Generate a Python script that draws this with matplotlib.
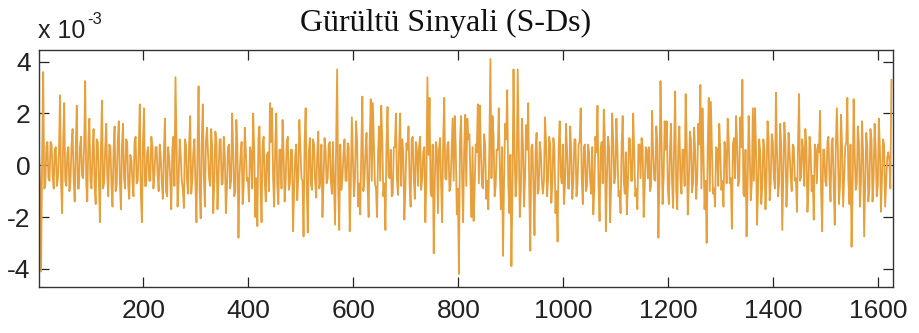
import numpy as np
import matplotlib
matplotlib.use('Agg')
import matplotlib.pyplot as plt

plt.rcParams['axes.unicode_minus'] = False

# noise signal, units of 1e-3
# peaks / spikes, every 4th sample
noise_e3 = [
    0.5, -4.1, 3.6, -0.8, 0.9, -0.6, 0.8, -0.9, 0.7, -0.5,
    2.7, -1.85, 2.4, -0.8, 0.7, -0.6, 1.4, -1.4, 2.3, -0.9,
    1.1, -0.5, 3.25, -1.4, 1.8, -0.9, 1.4, -1.5, 0.9, -2.2,
    2.5, -0.7, 1.6, -1.2, 0.7, -1.6, 1.5, -0.8, 1.7, -1.7,
    1.6, -0.9, 0.9, -1.3, 0.2, -1.2, 1.1, -0.6, 2.35, -2.2,
    2.2, -0.8, 0.7, -0.6, 0.7, -0.3, 0.7, -1.0, 0.3, -1.3,
    1.8, -1.2, 0.3, -1.7, 1.1, 3.4, -1.6, 1.0, -0.6,
    # 272 ..
    -1.65, 0.8, -1.1, 1.9, -0.6, 1.0, -2.2, 3.05, -2.05, 2.35,
    -1.6, 1.45, -0.5, 1.4, -1.85, 1.3, -1.7, 1.0, -0.75, 1.1,
    -1.85, 0.7, -0.9, 2.0, -1.2, 1.75, -2.8, 0.4, -1.5, 1.45,
    -0.6, -1.4, 0.5, 2.0, -2.0, -2.35, 1.5, -2.2, 1.1, -1.4,
    0.5, 2.4, 2.2, -1.6, 2.0, -1.5, 0.6, 1.75, -1.4, 0.9,
    -0.95, 0.6, -2.55, 0.35, -1.35, 1.75, -0.5, -2.75, 2.2, -2.6,
    1.05, -0.95, 0.8, -1.25, 1.3, -0.6, -2.0, 1.05,
    # 544 ..
    -0.7, 0.8, -0.6, 0.9, -2.3, 3.7, -2.5, -0.95, 0.4, -0.6,
    0.85, -2.55, 1.85, -1.2, 1.7, -1.6, -1.9, 2.65, -0.5, 1.25,
    -2.0, 2.55, 2.4, -0.7, -2.0, 1.5, 2.3, -1.2, -2.5, 2.25,
    -0.5, -1.2, 0.7, 2.0, -1.15, 2.0, 1.0, -2.1, 0.85, 1.5,
    -1.6, 1.1, -1.3, 0.6, 0.7, -0.95, 0.5, -2.2, 3.4, 2.6,
    -1.2, -3.4, 0.9, -1.85, 1.05, -2.2, 2.6, -0.55, 0.9, -0.8,
    1.8, 1.9, -1.9, -4.2, 1.9, -2.2, 1.95, 1.8,
    # 816 ..
    1.2, -2.0, -2.15, 0.8, 2.35, 2.3, -0.8, 1.2, -1.3, -1.7,
    4.1, 1.9, -1.2, 0.6, 2.2, -1.7, -3.5, 1.6, 2.9, -1.85,
    -3.9, 3.7, -1.2, 3.7, -2.0, 1.8, -1.6, 1.55, 2.4, -3.3,
    0.8, -2.7, 1.25, -0.95, 0.5, -1.1, 1.85, -1.2, 1.1, -1.45,
    1.05, -1.85, -2.95, 1.7, -0.7, -1.5, 1.6, -0.9, 1.5, -1.3,
    1.0, -1.2, 0.8, 2.2, -1.5, 0.8, -0.8, 0.5, -1.1, -1.9,
    1.1, 2.3, -2.15, 0.9, 2.15, -2.55, 1.1, -2.2,
    # 1092 ..
    2.0, -0.7, 1.8, -1.2, -1.85, 1.9, -1.1, -1.9, 1.05, -0.6,
    2.0, -1.2, -1.7, 0.8, 1.05, -2.0, 0.7, -0.5, -1.0, 2.1,
    -0.55, 1.5, -2.8, 3.25, -1.5, 1.7, 1.7, -1.5, 1.6, -1.65,
    2.85, -1.7, 1.5, -1.1, 0.6, 2.75, -1.9, 1.3, -1.05, 1.45,
    -1.3, 1.6, 3.1, 2.2, -1.7, -3.0, 2.6, 2.45, -1.1, -1.6,
    0.6, 1.6, -0.95, -1.6, 0.5, 1.8, -0.7, -2.45, 1.05, 1.9,
    -0.8, 1.85, 3.3, -1.2, -2.75, 1.9, -1.35, 2.2,
    # 1364 ..
    2.2, -2.3, 1.0, -1.5, 1.0, -1.7, 1.7, -1.35, 1.2, -0.5,
    2.8, -1.2, 1.6, -2.5, 1.65, -1.6, 1.25, -0.4, 0.8, -0.6,
    -1.8, 2.75, -0.45, 0.6, 1.4, -1.8, 1.1, -1.0, -2.1, 0.6,
    0.8, 2.1, -2.55, 0.6, -0.8, 1.1, -1.4, 1.05, -2.3, 2.2,
    -1.5, 1.95, -1.6, 0.7, 2.6, -1.5, -3.15, 2.55, -0.95, 1.5,
    -1.6, 1.7, -2.75, 1.25, -1.4, 1.4, -1.4, 1.6, -1.2, 1.8,
    -1.8, 1.0, -1.6, 0.3, 0.2, 3.3,
]
# the dense band in between (samples 3, 7, 11, ...)
noise_mid_e3 = [
    -0.6, 0.4, -0.9, 0.7, -0.5, 0.9, -0.4, 0.6, -0.8, 0.5,
    -0.7, 0.9, -0.6, 0.5, -1.0, 0.8, -0.5, 0.6, -0.9, 0.7,
    -0.4, 0.8, -0.7, 0.9, -0.6, 0.5, -0.8, 1.0, -0.5, 0.7,
    -0.9, 0.6, -0.4, 0.8, -0.7, 0.5, -1.0, 0.9, -0.6, 0.7,
    -0.5, 1.0, -0.8, 0.4, -0.6, 0.9, -0.7, 0.6, -1.1, 0.8,
    -0.8, 0.5, -0.6, 1.1, -0.9, 0.7, -0.4, 0.8, -0.7, 0.6,
    -1.0, 0.7, -0.5, 0.6, -0.8, 0.9, -0.6, 0.4, -0.9, 1.0,
    -0.6, 0.8, -1.1, 0.5, -0.7, 0.6, -0.9, 0.8, -0.4, 0.9,
    0.5, -0.8, 0.7, -0.6, 0.9, -0.5, 1.0, -0.7, 0.4, -0.9,
    0.8, -0.6, 0.5, -1.0, 0.7, -0.4, 0.9, -0.8, 0.6, -0.5,
    0.7, -0.9, 0.6, -0.5, 1.0, -0.7, 0.8, -0.6, 0.4, -1.0,
    0.9, -0.5, 0.7, -0.8, 0.6, -0.9, 0.5, -0.6, 1.1, -0.7,
    0.6, -1.0, 0.8, -0.4, 0.7, -0.6, 0.9, -0.8, 0.5, -0.7,
    1.0, -0.6, 0.4, -0.9, 0.8, -0.7, 0.6, -0.5, 0.9, -1.1,
    -0.7, 0.6, -0.9, 0.8, -0.5, 1.0, -0.6, 0.7, -0.8, 0.4,
    -0.5, 0.9, -0.7, 0.6, -1.0, 0.5, -0.8, 0.9, -0.6, 0.8,
    -0.9, 0.5, -0.6, 1.0, -0.7, 0.8, -0.4, 0.6, -1.1, 0.7,
    -0.6, 0.7, -0.8, 0.5, -0.9, 0.6, -0.7, 1.0, -0.5, 0.9,
    -0.8, 1.1, -0.5, 0.7, -0.6, 0.4, -1.0, 0.8, -0.7, 0.6,
    0.6, -0.7, 0.9, -0.5, 0.8, -1.0, 0.5, -0.6, 0.7, -0.9,
    0.9, -0.4, 0.6, -0.8, 1.0, -0.6, 0.7, -0.9, 0.5, -0.7,
    0.5, -0.9, 0.8, -0.6, 0.7, -0.5, 1.1, -0.8, 0.6, -0.4,
    0.7, -0.6, 1.0, -0.7, 0.4, -0.9, 0.6, -0.5, 0.8, -1.0,
    0.8, -0.5, 0.6, -0.9, 0.7, -0.8, 0.5, -1.1, 0.9, -0.6,
    -0.6, 0.9, -0.5, 0.8, -0.7, 0.6, -1.0, 0.7, -0.4, 0.8,
    -0.8, 0.6, -0.9, 0.5, -0.6, 1.0, -0.7, 0.9, -0.5, 0.7,
    -1.0, 0.8, -0.6, 0.7, -0.9, 0.5, -0.8, 0.6, -0.7, 1.1,
    -0.5, 0.7, -0.8, 0.9, -0.4, 0.6, -1.0, 0.8, -0.6, 0.5,
    -0.7, 1.0, -0.6, 0.5, -0.9, 0.8, -0.5, 0.7, -0.8, 0.6,
    0.7, -0.8, 0.5, -0.6, 0.9, -0.7, 1.0, -0.5, 0.6, -0.9,
    0.5, -0.6, 0.8, -1.0, 0.7, -0.5, 0.6, -0.8, 0.9, -0.7,
    1.0, -0.7, 0.6, -0.5, 0.8, -0.9, 0.4, -0.6, 0.7, -1.0,
    0.6, -0.9, 0.7, -0.8, 0.5, -0.6, 0.9, -0.7, 1.0, -0.5,
    0.8, -0.5, 0.9, -0.6, 0.7, -1.1, 0.6, -0.8, 0.5, -0.7,
    -0.6, 0.7, -0.9, 0.5, -0.8, 0.6, -0.5, 1.0, -0.7, 0.9,
    -0.9, 0.6, -0.7, 0.8, -0.5, 0.9, -0.6, 0.5, -1.0, 0.7,
    -0.5, 0.8, -0.6, 1.0, -0.8, 0.7, -0.9, 0.6, -0.4, 0.8,
    -0.7, 0.5, -1.0, 0.6, -0.6, 0.9, -0.5, 0.8, -0.8, 0.7,
    0.6, -0.8, 0.7, -0.5, 0.9, -0.6, 0.8, -1.0, 0.5, -0.7,
    0.9, -0.6, 0.5, -0.8, 0.7, -0.9, 1.0, -0.5, 0.6, -0.8,
    0.7, -0.5, 0.8, -0.6, 0.5, -0.9,
]
sample_step = 2
x_ticks = [200, 400, 600, 800, 1000, 1200, 1400, 1600]
y_ticks = [-4, -2, 0, 2, 4]
title = 'Gürültü Sinyali (S-Ds)'

# interleave peaks and band samples
k = min(len(noise_e3) - 1, len(noise_mid_e3))
sig = np.empty(2 * k + 1)
sig[0::2] = noise_e3[:k + 1]
sig[1::2] = noise_mid_e3[:k]
n = np.arange(len(sig)) * sample_step + 1

W, H = 920, 333
fig = plt.figure(figsize=(W / 100, H / 100), dpi=100)
ax = fig.add_axes([39 / W, 1 - 286.7 / H, (893 - 39) / W, (286.7 - 50) / H])

ax.plot(n, sig, color='#E8A03C', lw=1.3)

ax.set_xlim(1, 1628)
ax.set_ylim(-4.69, 4.45)
ax.set_xticks(x_ticks)
ax.set_yticks(y_ticks)
ax.tick_params(direction='in', length=7, width=0.9, colors='#222222',
               top=True, right=True, labelsize=19, pad=9)
ax.tick_params(axis='y', pad=6)
for lab in ax.get_xticklabels() + ax.get_yticklabels():
    lab.set_family('Liberation Sans')
for sp in ax.spines.values():
    sp.set_linewidth(1.0)
    sp.set_color('#333333')

# MATLAB style exponent label
fig.text(38 / W, 1 - 38 / H, 'x 10', fontsize=18, family='Liberation Sans',
         va='baseline', ha='left', color='#222222')
fig.text(87 / W, 1 - 24 / H, '-3', fontsize=12, family='Liberation Sans',
         va='baseline', ha='left', color='#222222')
fig.text(446 / W, 1 - 23 / H, title, fontsize=23, family='Liberation Serif',
         ha='center', va='center', color='#111111')

fig.savefig('out.png', dpi=100)
